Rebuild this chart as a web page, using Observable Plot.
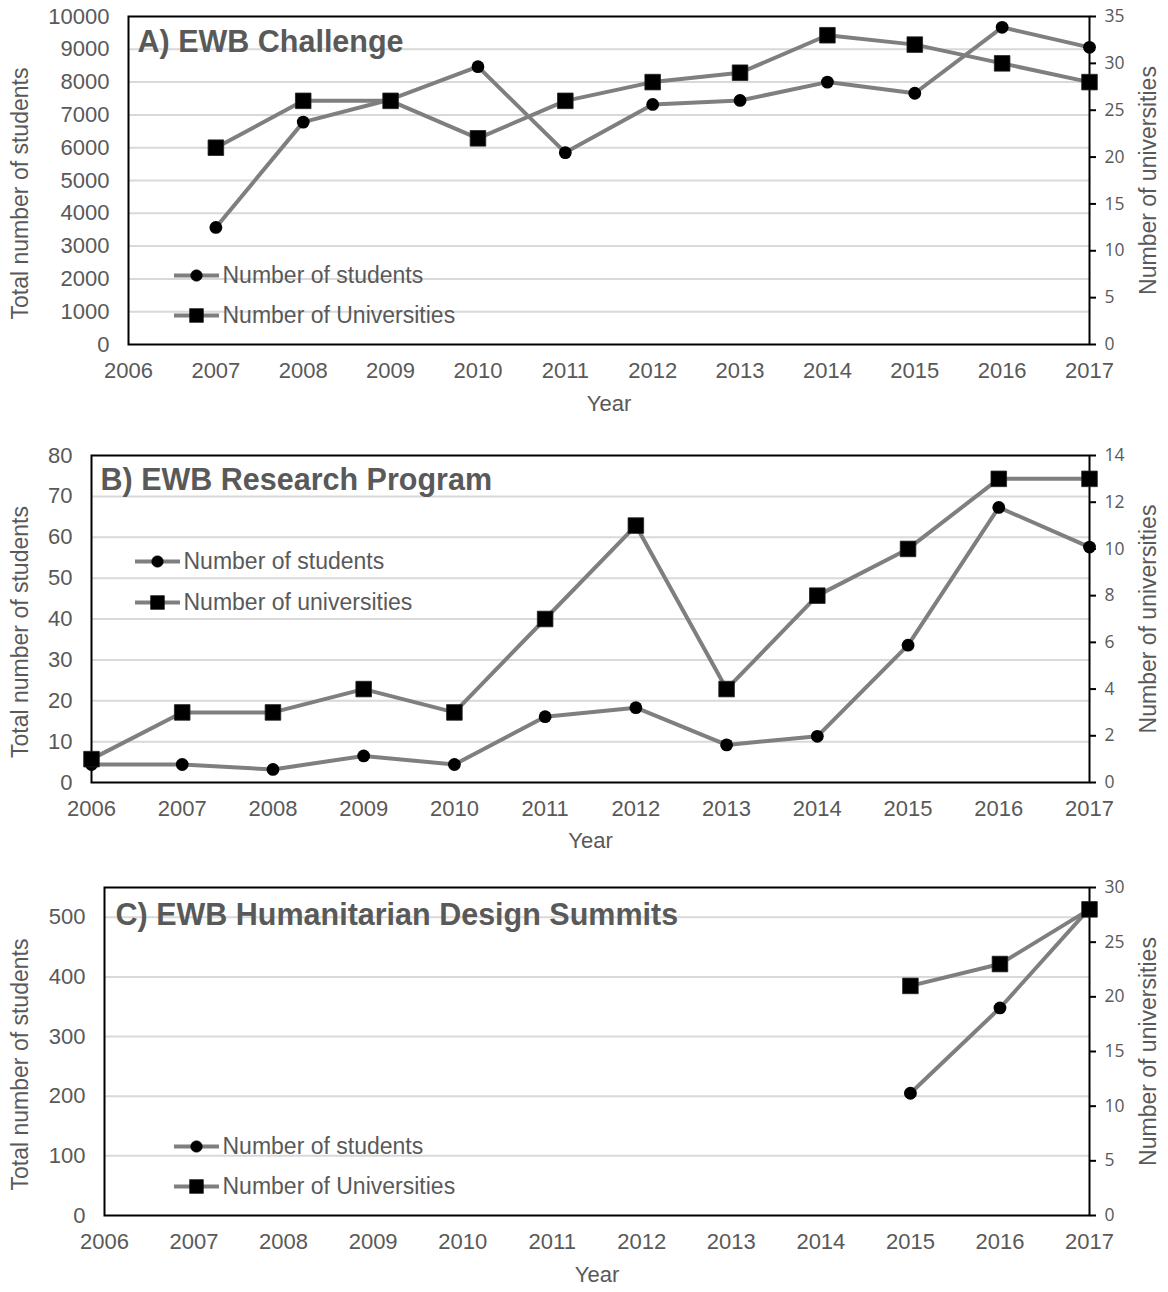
<!DOCTYPE html>
<html>
<head>
<meta charset="utf-8">
<script src="https://cdn.jsdelivr.net/npm/d3@7"></script>
<script src="https://cdn.jsdelivr.net/npm/@observablehq/plot@0.6"></script>
<style>
  body { margin: 0; background: #ffffff; }
  #chart svg { display: block; }
</style>
</head>
<body>
<div id="chart"></div>
<script>
// ---------- data ----------
const allYears = [2006, 2007, 2008, 2009, 2010, 2011, 2012, 2013, 2014, 2015, 2016, 2017];

const challengeYears = [2007, 2008, 2009, 2010, 2011, 2012, 2013, 2014, 2015, 2016, 2017];
const challengeStudents = [3570, 6780, 7470, 8470, 5850, 7320, 7440, 8000, 7660, 9670, 9060];
const challengeUniversities = [21, 26, 26, 22, 26, 28, 29, 33, 32, 30, 28];

const researchYears = [2006, 2007, 2008, 2009, 2010, 2011, 2012, 2013, 2014, 2015, 2016, 2017];
const researchStudents = [4.4, 4.4, 3.2, 6.5, 4.4, 16.1, 18.3, 9.2, 11.3, 33.6, 67.3, 57.6];
const researchUniversities = [1, 3, 3, 4, 3, 7, 11, 4, 8, 10, 13, 13];

const summitYears = [2015, 2016, 2017];
const summitStudents = [205, 348, 515];
const summitUniversities = [21, 23, 28];

const titles = ["A) EWB Challenge", "B) EWB Research Program", "C) EWB Humanitarian Design Summits"];
const legendA = ["Number of students", "Number of Universities"];
const legendB = ["Number of students", "Number of universities"];
const legendC = ["Number of students", "Number of Universities"];
const xLabel = "Year";
const yLeftLabel = "Total number of students";
const yRightLabel = "Number of universities";

// ---------- style ----------
const FONT = "'Liberation Sans', Arial, Helvetica, sans-serif";
const TEXT = "#595959";
const LINE = "#7f7f7f";
const GRID = "#d9d9d9";

const lineSymbol = {
  draw(ctx) { ctx.moveTo(-22.5, 0); ctx.lineTo(22.5, 0); }
};

function makePanel(cfg) {
  const k = cfg.leftMax / cfg.rightMax;
  const studentRows = cfg.years.map((year, i) => ({year, value: cfg.students[i]}));
  const uniRows = cfg.years.map((year, i) => ({year, value: cfg.universities[i] * k}));
  const leftTicks = d3.range(0, cfg.leftTop + cfg.leftStep / 2, cfg.leftStep);
  const gridTicks = leftTicks.filter(t => t > 0 && t < cfg.leftMax);
  const rightTicks = d3.range(0, cfg.rightMax + cfg.rightStep / 2, cfg.rightStep).map(t => t * k);
  const L = cfg.legend;

  const legendMarks = [];
  L.labels.forEach((label, i) => {
    legendMarks.push(
      Plot.dot([label], {frameAnchor: "top-left", dx: L.markerDx, dy: L.dys[i], symbol: lineSymbol, stroke: LINE, strokeWidth: 4, r: 1}),
      Plot.dot([label], {frameAnchor: "top-left", dx: L.markerDx, dy: L.dys[i], symbol: i === 0 ? "circle" : "square", r: i === 0 ? 5.8 : 7.8, fill: "#000", stroke: "#000", strokeWidth: 0.5}),
      Plot.text([label], {text: d => d, frameAnchor: "top-left", dx: L.textDx, dy: L.dys[i], textAnchor: "start", lineAnchor: "middle", fontSize: 23, fill: TEXT})
    );
  });

  return Plot.plot({
    width: 1168,
    height: cfg.height,
    marginTop: cfg.mt, marginBottom: cfg.mb, marginLeft: cfg.ml, marginRight: cfg.mr,
    x: {type: "linear", domain: [2006, 2017]},
    y: {type: "linear", domain: [0, cfg.leftMax]},
    style: {fontFamily: FONT, color: TEXT, background: "#ffffff", overflow: "visible"},
    marks: [
      Plot.gridY(gridTicks, {stroke: GRID, strokeOpacity: 1, strokeWidth: 2}),
      Plot.axisY(leftTicks, {anchor: "left", tickSize: 0, tickPadding: 19, fontSize: 22, label: null, tickFormat: d3.format("d")}),
      Plot.axisY(rightTicks, {anchor: "right", tickSize: 6, tickPadding: 9, stroke: "#000", strokeWidth: 2,
        tickFormat: d => String(Math.round(d / k)), fontSize: 17.5, fontFamily: "'Open Sans', sans-serif", label: null}),
      Plot.axisX(allYears, {anchor: "bottom", tickSize: 0, tickPadding: 18, fontSize: 22, label: null, tickFormat: d => String(d)}),
      Plot.text([xLabel], {text: d => d, frameAnchor: "bottom", dy: cfg.xLabelDy, textAnchor: "middle", lineAnchor: "middle", fontSize: 22, fill: TEXT}),
      Plot.text([yLeftLabel], {text: d => d, frameAnchor: "left", dx: cfg.yLabelDx, dy: 13, rotate: -90, textAnchor: "middle", lineAnchor: "middle", fontSize: 23, fill: TEXT}),
      Plot.text([yRightLabel], {text: d => d, frameAnchor: "right", dx: 59, dy: 0, rotate: -90, textAnchor: "middle", lineAnchor: "middle", fontSize: 23, fill: TEXT}),
      Plot.frame({stroke: "#000", strokeWidth: 2}),
      Plot.text([cfg.title], {text: d => d, frameAnchor: "top-left", dx: cfg.titleDx, dy: cfg.titleDy, textAnchor: "start", lineAnchor: "middle", fontSize: 30.5, fontWeight: "bold", fill: TEXT}),
      ...legendMarks,
      Plot.line(studentRows, {x: "year", y: "value", stroke: LINE, strokeWidth: 4}),
      Plot.line(uniRows, {x: "year", y: "value", stroke: LINE, strokeWidth: 4}),
      Plot.dot(studentRows, {x: "year", y: "value", symbol: "circle", r: 6.4, fill: "#000"}),
      Plot.dot(uniRows, {x: "year", y: "value", symbol: "square", r: 8.8, fill: "#000", stroke: "#222", strokeWidth: 0.8})
    ]
  });
}

const chart = document.getElementById("chart");

chart.append(makePanel({
  title: titles[0], titleDx: 9, titleDy: 26,
  years: challengeYears, students: challengeStudents, universities: challengeUniversities,
  leftMax: 10000, leftTop: 10000, leftStep: 1000, rightMax: 35, rightStep: 5,
  height: 431, mt: 16, mb: 87, ml: 128, mr: 79,
  xLabelDy: 59, yLabelDx: -108,
  legend: {labels: legendA, markerDx: 68, textDx: 94, dys: [259, 299]}
}));

chart.append(makePanel({
  title: titles[1], titleDx: 9, titleDy: 25,
  years: researchYears, students: researchStudents, universities: researchUniversities,
  leftMax: 80, leftTop: 80, leftStep: 10, rightMax: 14, rightStep: 2,
  height: 431, mt: 24, mb: 80, ml: 91, mr: 79,
  xLabelDy: 58, yLabelDx: -71,
  legend: {labels: legendB, markerDx: 66, textDx: 92, dys: [106, 147]}
}));

chart.append(makePanel({
  title: titles[2], titleDx: 11, titleDy: 28,
  years: summitYears, students: summitStudents, universities: summitUniversities,
  leftMax: 550, leftTop: 500, leftStep: 100, rightMax: 30, rightStep: 5,
  height: 430, mt: 25, mb: 77, ml: 104, mr: 79,
  xLabelDy: 59, yLabelDx: -84,
  legend: {labels: legendC, markerDx: 92, textDx: 118, dys: [259, 299]}
}));
</script>
</body>
</html>
